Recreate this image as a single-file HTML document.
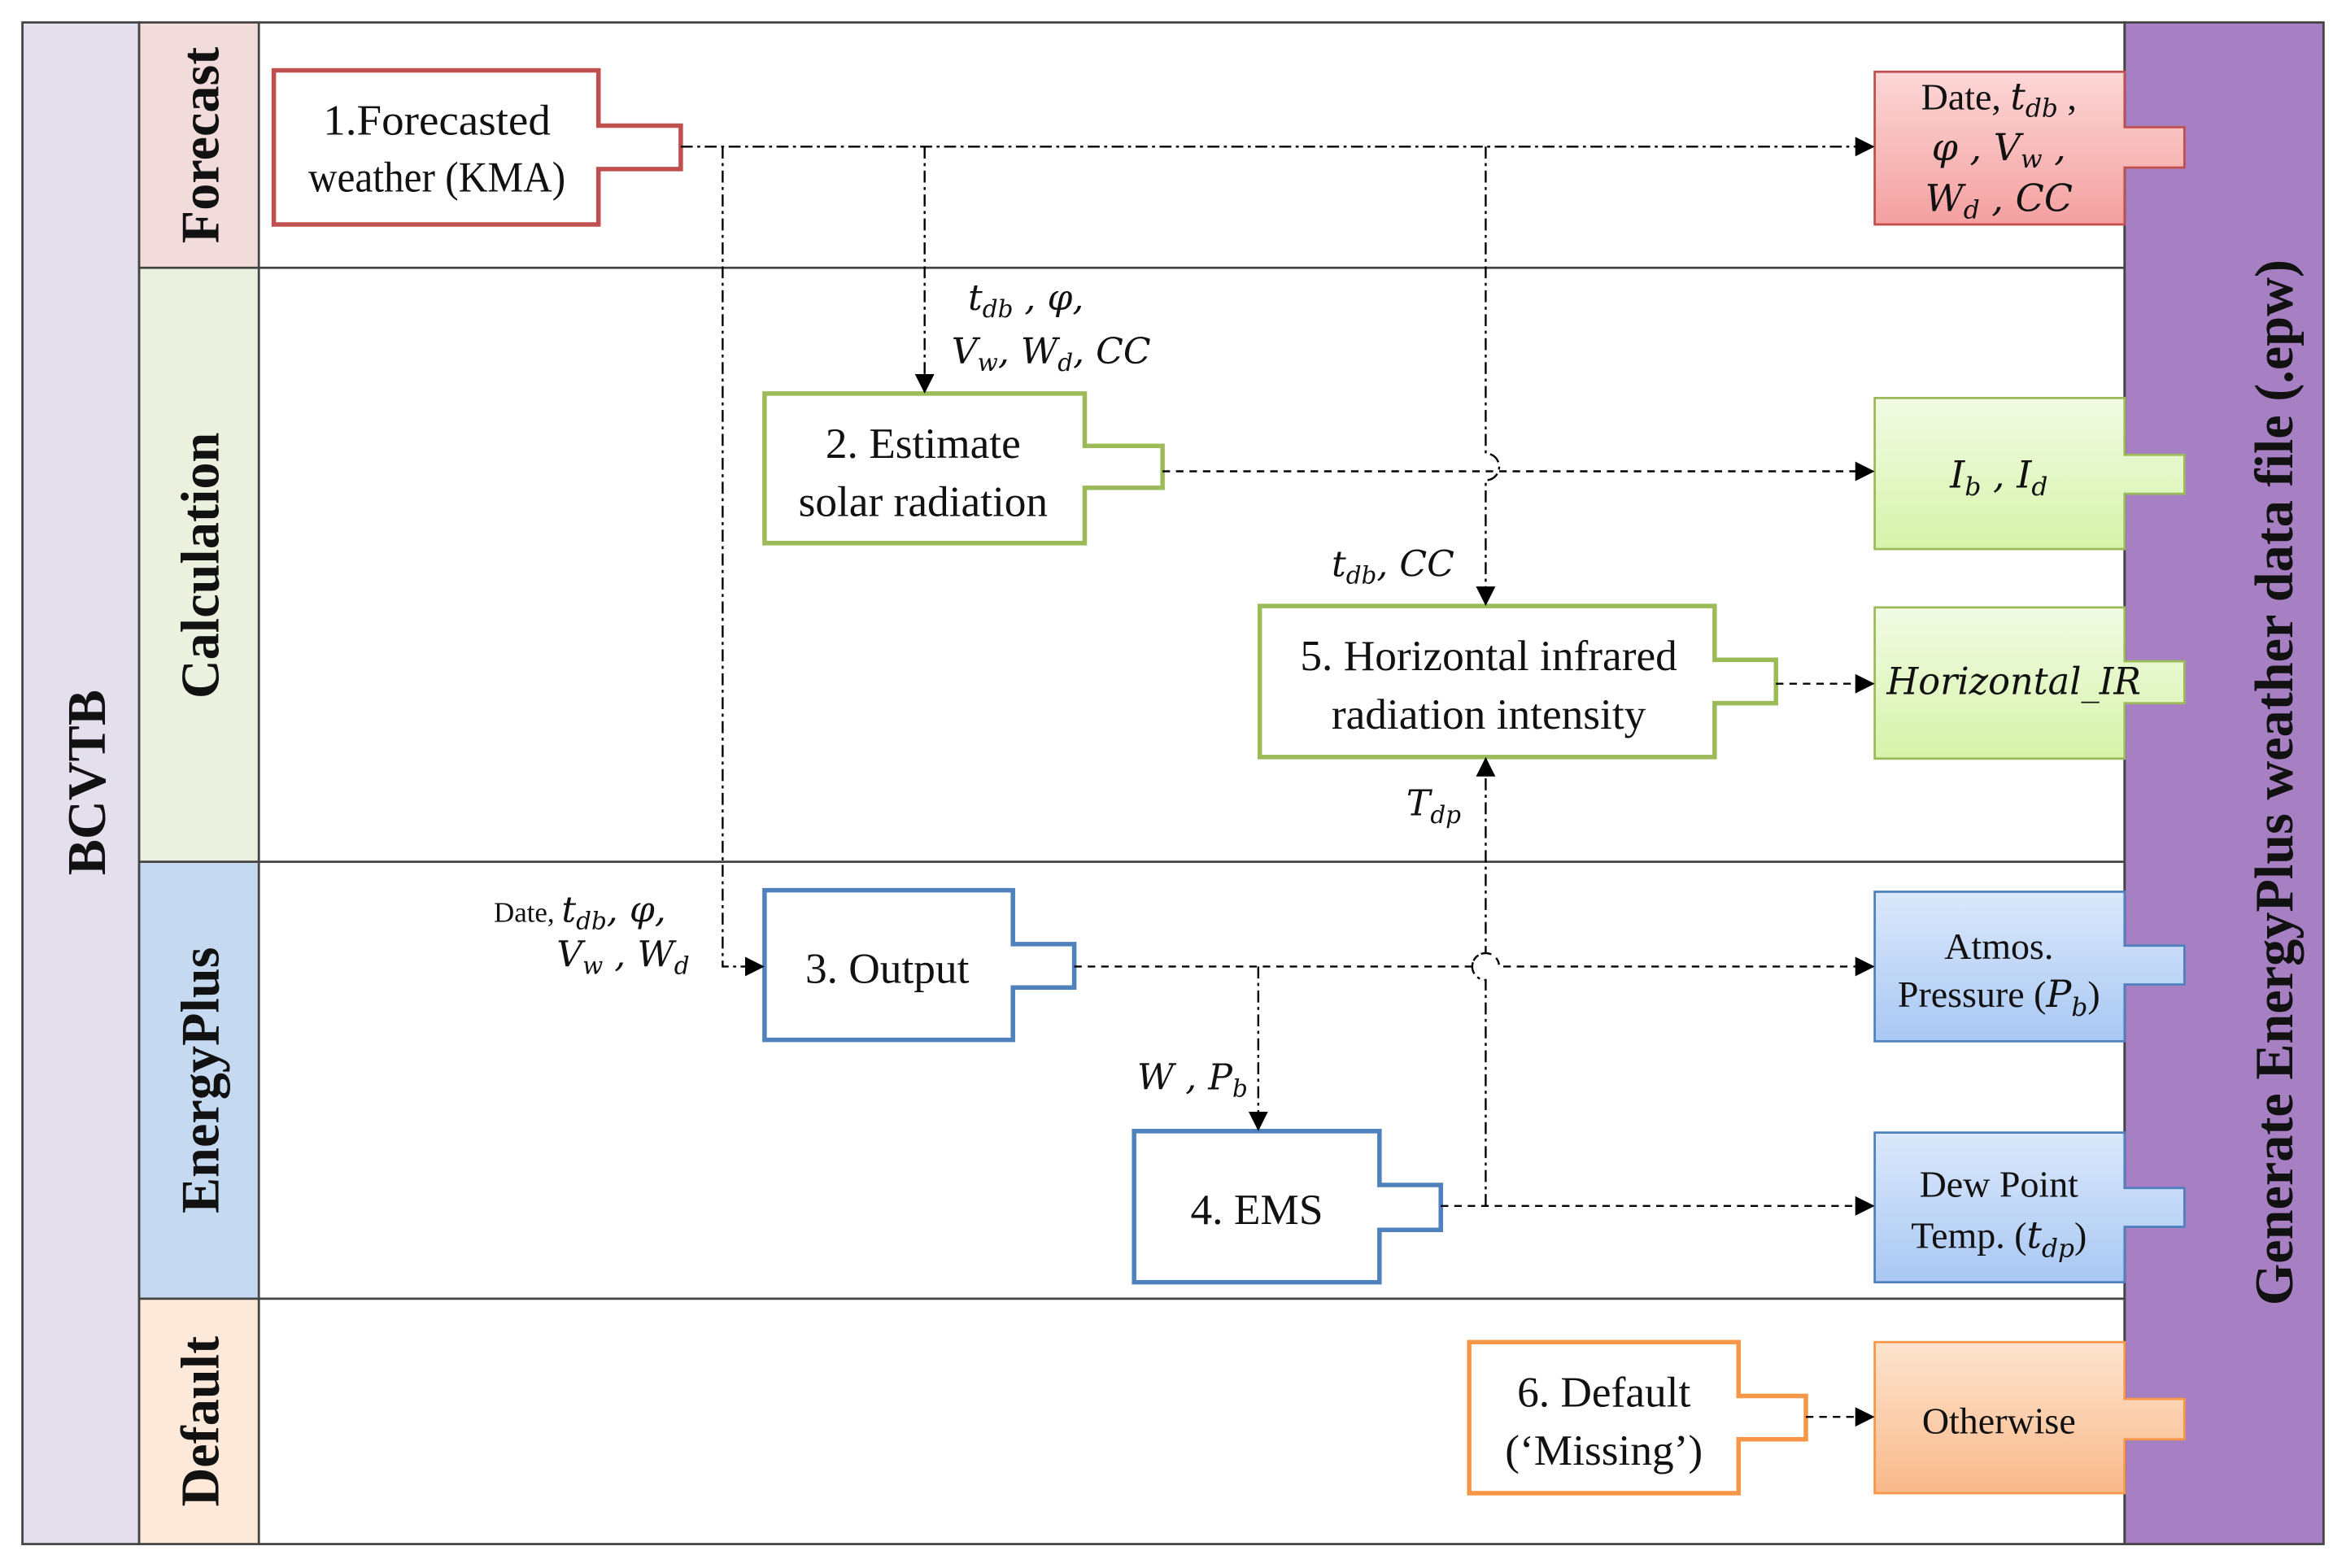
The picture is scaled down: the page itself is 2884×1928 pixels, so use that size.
<!DOCTYPE html>
<html><head><meta charset="utf-8"><style>
html,body{margin:0;padding:0;background:#fff;}
svg{display:block;}
text{font-family:"Liberation Serif",serif;fill:#111;}
.it{font-style:italic;font-family:"DejaVu Serif","Liberation Serif",serif;}
</style></head><body>
<svg width="2884" height="1928" viewBox="0 0 1568 1048" preserveAspectRatio="none" xmlns="http://www.w3.org/2000/svg">
<defs>
<marker id="ar" markerWidth="13" markerHeight="13" refX="12" refY="6.5" orient="auto" markerUnits="userSpaceOnUse"><path d="M0,0 L13,6.5 L0,13 Z" fill="#000"/></marker>
<linearGradient id="gr" x1="0" y1="0" x2="0" y2="1"><stop offset="0" stop-color="#fcd7d7"/><stop offset="1" stop-color="#f4a0a0"/></linearGradient>
<linearGradient id="gg" x1="0" y1="0" x2="0" y2="1"><stop offset="0" stop-color="#f2fbe4"/><stop offset="1" stop-color="#d6f3aa"/></linearGradient>
<linearGradient id="gb" x1="0" y1="0" x2="0" y2="1"><stop offset="0" stop-color="#dbe8fb"/><stop offset="1" stop-color="#a9c8f3"/></linearGradient>
<linearGradient id="go" x1="0" y1="0" x2="0" y2="1"><stop offset="0" stop-color="#fde4cf"/><stop offset="1" stop-color="#f9b98a"/></linearGradient>
</defs>
<rect x="15" y="15" width="78" height="1017" fill="#e4dfec" stroke="#444" stroke-width="1.5"/>
<rect x="93" y="15" width="80" height="164" fill="#f2dcdb"/>
<rect x="93" y="179" width="80" height="397" fill="#ebf1de"/>
<rect x="93" y="576" width="80" height="292" fill="#c5d9f1"/>
<rect x="93" y="868" width="80" height="164" fill="#fde9d9"/>
<rect x="1420" y="15" width="133" height="1017" fill="#a680c3" stroke="#444" stroke-width="1.5"/>
<g stroke="#444" stroke-width="1.5" fill="none">
<rect x="93" y="15" width="1327" height="1017"/>
<line x1="173" y1="15" x2="173" y2="1032"/>
<line x1="93" y1="179" x2="1420" y2="179"/>
<line x1="93" y1="576" x2="1420" y2="576"/>
<line x1="93" y1="868" x2="1420" y2="868"/>
</g>
<g font-weight="bold" font-size="36">
<text transform="translate(70,523) rotate(-90)" text-anchor="middle">BCVTB</text>
<text transform="translate(146,97) rotate(-90)" text-anchor="middle">Forecast</text>
<text transform="translate(146,378) rotate(-90)" text-anchor="middle">Calculation</text>
<text transform="translate(146,722) rotate(-90)" text-anchor="middle">EnergyPlus</text>
<text transform="translate(146,950) rotate(-90)" text-anchor="middle">Default</text>
<text transform="translate(1532,523) rotate(-90)" text-anchor="middle">Generate EnergyPlus weather data file (.epw)</text>
</g>
<g fill="#fff" stroke-width="3">
<path d="M183,47 H400 V84 H455 V113 H400 V150 H183 Z" stroke="#c0504d"/>
<path d="M511,263 H725 V298 H777 V326 H725 V363 H511 Z" stroke="#9bbb59"/>
<path d="M842,405 H1146 V441 H1187 V470 H1146 V506 H842 Z" stroke="#9bbb59"/>
<path d="M511,595 H677 V631 H718 V660 H677 V695 H511 Z" stroke="#4f81bd"/>
<path d="M758,756 H922 V792 H963 V822 H922 V857 H758 Z" stroke="#4f81bd"/>
<path d="M982,897 H1162 V933 H1207 V962 H1162 V998 H982 Z" stroke="#f79646"/>
</g>
<g stroke-width="1.5">
<path d="M1253,48 H1420 V85 H1460 V112 H1420 V150 H1253 Z" fill="url(#gr)" stroke="#c0504d"/>
<path d="M1253,266 H1420 V304 H1460 V330 H1420 V367 H1253 Z" fill="url(#gg)" stroke="#9bbb59"/>
<path d="M1253,406 H1420 V442 H1460 V470 H1420 V507 H1253 Z" fill="url(#gg)" stroke="#9bbb59"/>
<path d="M1253,596 H1420 V632 H1460 V658 H1420 V696 H1253 Z" fill="url(#gb)" stroke="#4f81bd"/>
<path d="M1253,757 H1420 V794 H1460 V820 H1420 V857 H1253 Z" fill="url(#gb)" stroke="#4f81bd"/>
<path d="M1253,897 H1420 V935 H1460 V962 H1420 V998 H1253 Z" fill="url(#go)" stroke="#f79646"/>
</g>
<g stroke="#000" stroke-width="1.3" fill="none">
<line x1="455" y1="98" x2="1252" y2="98" stroke-dasharray="8,3,2,3" marker-end="url(#ar)"/>
<path d="M483,98 V646 H510" stroke-dasharray="8,3,2,3" marker-end="url(#ar)"/>
<line x1="618" y1="98" x2="618" y2="262" stroke-dasharray="8,3,2,3" marker-end="url(#ar)"/>
<path d="M993,98 V303 A9,9 0 0 1 993,321 V404" stroke-dasharray="8,3,2,3" marker-end="url(#ar)"/>
<line x1="777" y1="315" x2="1252" y2="315" stroke-dasharray="5,4" marker-end="url(#ar)"/>
<line x1="1187" y1="457" x2="1252" y2="457" stroke-dasharray="5,4" marker-end="url(#ar)"/>
<path d="M718,646 H984 A9,9 0 0 1 1002,646 H1252" stroke-dasharray="5,4" marker-end="url(#ar)"/>
<line x1="841" y1="646" x2="841" y2="755" stroke-dasharray="8,3,2,3" marker-end="url(#ar)"/>
<line x1="963" y1="806" x2="1252" y2="806" stroke-dasharray="5,4" marker-end="url(#ar)"/>
<path d="M993,806 V655 A9,9 0 0 1 993,637 V507" stroke-dasharray="8,3,2,3" marker-end="url(#ar)"/>
<line x1="1207" y1="947" x2="1252" y2="947" stroke-dasharray="5,4" marker-end="url(#ar)"/>
</g>
<g font-size="29" text-anchor="middle">
<text x="292" y="90" textLength="152" lengthAdjust="spacingAndGlyphs">1.Forecasted</text>
<text x="292" y="128" textLength="172" lengthAdjust="spacingAndGlyphs">weather (KMA)</text>
<text x="617" y="306">2. Estimate</text>
<text x="617" y="345">solar radiation</text>
<text x="995" y="448">5. Horizontal infrared</text>
<text x="995" y="487">radiation intensity</text>
<text x="593" y="657">3. Output</text>
<text x="840" y="818">4. EMS</text>
<text x="1072" y="940">6. Default</text>
<text x="1072" y="979">(‘Missing’)</text>
</g>
<g font-size="25" text-anchor="middle">
<text x="1336" y="641">Atmos.</text>
<text x="1336" y="673">Pressure (<tspan class="it">P</tspan><tspan font-size="17" dy="6" class="it">b</tspan><tspan dy="-6">)</tspan></text>
<text x="1336" y="800">Dew Point</text>
<text x="1336" y="834">Temp. (<tspan class="it">t</tspan><tspan font-size="17" dy="6" class="it">dp</tspan><tspan dy="-6">)</tspan></text>
<text x="1336" y="958">Otherwise</text>
<text x="1336" y="73">Date, <tspan class="it">t</tspan><tspan class="it" font-size="17" dy="5">db</tspan><tspan dy="-5"> ,</tspan></text>
<text x="1336" y="107" class="it">φ ,  V<tspan font-size="17" dy="5">w</tspan><tspan dy="-5"> ,</tspan></text>
<text x="1336" y="141" class="it">W<tspan font-size="17" dy="5">d</tspan><tspan dy="-5"> , CC</tspan></text>
<text x="1336" y="326" class="it">I<tspan font-size="17" dy="5">b</tspan><tspan dy="-5"> , I</tspan><tspan font-size="17" dy="5">d</tspan></text>
<text x="1346" y="464" class="it" textLength="170" lengthAdjust="spacingAndGlyphs">Horizontal_IR</text>
</g>
<g font-size="24" class="it">
<text x="647" y="207" class="it">t<tspan font-size="16" dy="5">db</tspan><tspan dy="-5"> ,  φ,</tspan></text>
<text x="636" y="243" class="it">V<tspan font-size="16" dy="5">w</tspan><tspan dy="-5">, W</tspan><tspan font-size="16" dy="5">d</tspan><tspan dy="-5">, CC</tspan></text>
<text x="890" y="385" class="it">t<tspan font-size="16" dy="5">db</tspan><tspan dy="-5">, CC</tspan></text>
<text x="940" y="545" class="it">T<tspan font-size="16" dy="5">dp</tspan></text>
<text x="760" y="728" class="it">W , P<tspan font-size="16" dy="5">b</tspan></text>
<text x="330" y="616" font-style="normal" font-family="Liberation Serif,serif" font-size="19">Date, <tspan class="it" font-size="24">t</tspan><tspan class="it" font-size="16" dy="5">db</tspan><tspan dy="-5" class="it" font-size="24">, φ,</tspan></text>
<text x="372" y="646" class="it">V<tspan font-size="16" dy="5">w</tspan><tspan dy="-5"> , W</tspan><tspan font-size="16" dy="5">d</tspan></text>
</g>
</svg>
</body></html>
